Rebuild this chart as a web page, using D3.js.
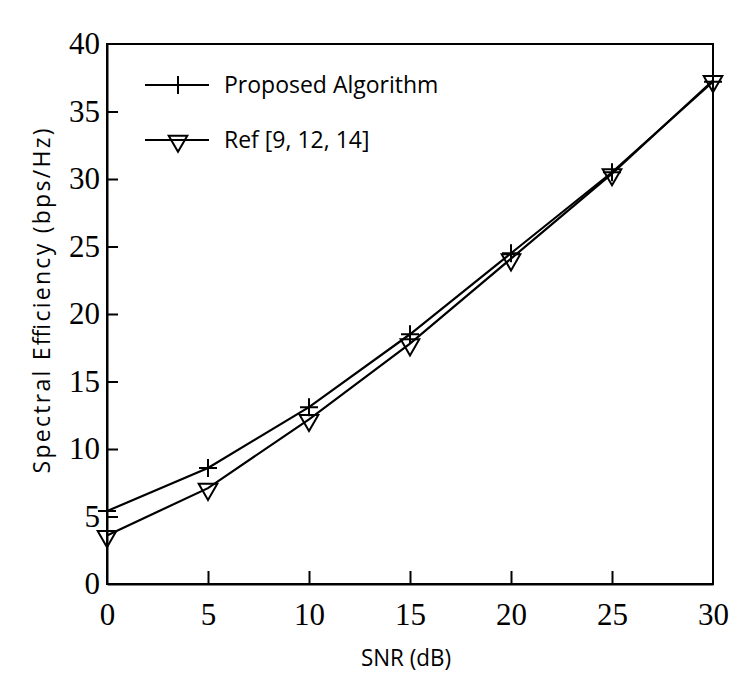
<!DOCTYPE html>
<html>
<head>
<meta charset="utf-8">
<script src="https://cdnjs.cloudflare.com/ajax/libs/d3/7.8.5/d3.min.js"></script>
<style>
  body { margin: 0; background: #fff; }
  svg { display: block; }
</style>
</head>
<body>
<div id="chart"></div>
<script>
// SNR values (dB)
const snr = [0, 5, 10, 15, 20, 25, 30];
// spectral efficiency
const proposed = [5.4, 8.6, 13.1, 18.5, 24.5, 30.5, 37.2];
const reference = [3.6, 7.1, 12.2, 17.8, 24.1, 30.4, 37.3];
const seriesNames = ['Proposed Algorithm', 'Ref [9, 12, 14]'];
const xTicks = [0, 5, 10, 15, 20, 25, 30];
const yTicks = [0, 5, 10, 15, 20, 25, 30, 35, 40];

const width = 739, height = 682;
const margin = { top: 44, right: 26, bottom: 98, left: 107 };

const svg = d3.select('#chart').append('svg')
    .attr('width', width)
    .attr('height', height);

const x = d3.scaleLinear().domain([0, 30]).range([margin.left, width - margin.right]);
const y = d3.scaleLinear().domain([0, 40]).range([height - margin.bottom, margin.top]);

const serif = '"Liberation Serif", "DejaVu Serif", serif';
const sans = '"Open Sans", "Noto Sans", sans-serif';

// frame (top + right, no ticks)
svg.append('rect')
    .attr('x', x(0)).attr('y', y(40))
    .attr('width', x(30) - x(0)).attr('height', y(0) - y(40))
    .attr('fill', 'none').attr('stroke', '#000').attr('stroke-width', 2);

// axes with inward ticks
const xAxis = svg.append('g')
    .attr('transform', `translate(0,${y(0)})`)
    .call(d3.axisBottom(x).tickValues(xTicks).tickSizeInner(-13).tickSizeOuter(0).tickPadding(18));
const yAxis = svg.append('g')
    .attr('transform', `translate(${x(0)},0)`)
    .call(d3.axisLeft(y).tickValues(yTicks).tickSizeInner(-11).tickSizeOuter(0).tickPadding(7));

[xAxis, yAxis].forEach(a => {
    a.select('.domain').attr('stroke-width', 2);
    a.selectAll('.tick line').attr('stroke-width', 2);
    a.selectAll('.tick text')
        .style('font-family', serif)
        .style('font-size', '31px')
        .attr('fill', '#000');
});
// hide ticks sitting on corners
xAxis.selectAll('.tick line').filter(d => d === 0 || d === 30).remove();
yAxis.selectAll('.tick line').filter(d => d === 0 || d === 40).remove();
xAxis.selectAll('.tick text').attr('dy', '0.75em');

// axis titles
svg.append('text')
    .attr('x', 406)
    .attr('y', 666)
    .attr('text-anchor', 'middle')
    .attr('textLength', 90)
    .attr('lengthAdjust', 'spacingAndGlyphs')
    .style('font-family', sans)
    .style('font-size', '24px')
    .text('SNR (dB)');

svg.append('text')
    .attr('transform', `translate(50,301) rotate(-90)`)
    .attr('text-anchor', 'middle')
    .attr('textLength', 345)
    .attr('lengthAdjust', 'spacing')
    .style('font-family', sans)
    .style('font-size', '23px')
    .text('Spectral Efficiency (bps/Hz)');

const line = d3.line().x(d => x(d[0])).y(d => y(d[1]));

const tri = d3.symbol().type(d3.symbolTriangle).size(150);

function drawPlus(g, cx, cy) {
    g.append('path')
        .attr('d', `M${cx - 9},${cy}H${cx + 9}M${cx},${cy - 9}V${cy + 9}`)
        .attr('stroke', '#000').attr('stroke-width', 2).attr('fill', 'none');
}
function drawTri(g, cx, cy) {
    g.append('path')
        .attr('d', tri())
        .attr('transform', `translate(${cx},${cy + 1}) rotate(180)`)
        .attr('fill', 'none').attr('stroke', '#000').attr('stroke-width', 2);
}

const propData = snr.map((s, i) => [s, proposed[i]]);
const refData = snr.map((s, i) => [s, reference[i]]);

const plot = svg.append('g');
[propData, refData].forEach(data => {
    plot.append('path')
        .datum(data)
        .attr('d', line)
        .attr('fill', 'none')
        .attr('stroke', '#000')
        .attr('stroke-width', 2.2);
});
propData.forEach(d => drawPlus(plot, x(d[0]), y(d[1])));
refData.forEach(d => drawTri(plot, x(d[0]), y(d[1])));

// legend
const legend = svg.append('g');
const legendRows = [
    { name: seriesNames[0], cy: 85, marker: drawPlus },
    { name: seriesNames[1], cy: 140, marker: drawTri }
];
legendRows.forEach(r => {
    legend.append('line')
        .attr('x1', 145).attr('x2', 209)
        .attr('y1', r.cy).attr('y2', r.cy)
        .attr('stroke', '#000').attr('stroke-width', 2);
    r.marker(legend, 178, r.cy);
    legend.append('text')
        .attr('x', 224).attr('y', r.cy + 8)
        .style('font-family', sans)
        .style('font-size', '23px')
        .text(r.name);
});
</script>
</body>
</html>
